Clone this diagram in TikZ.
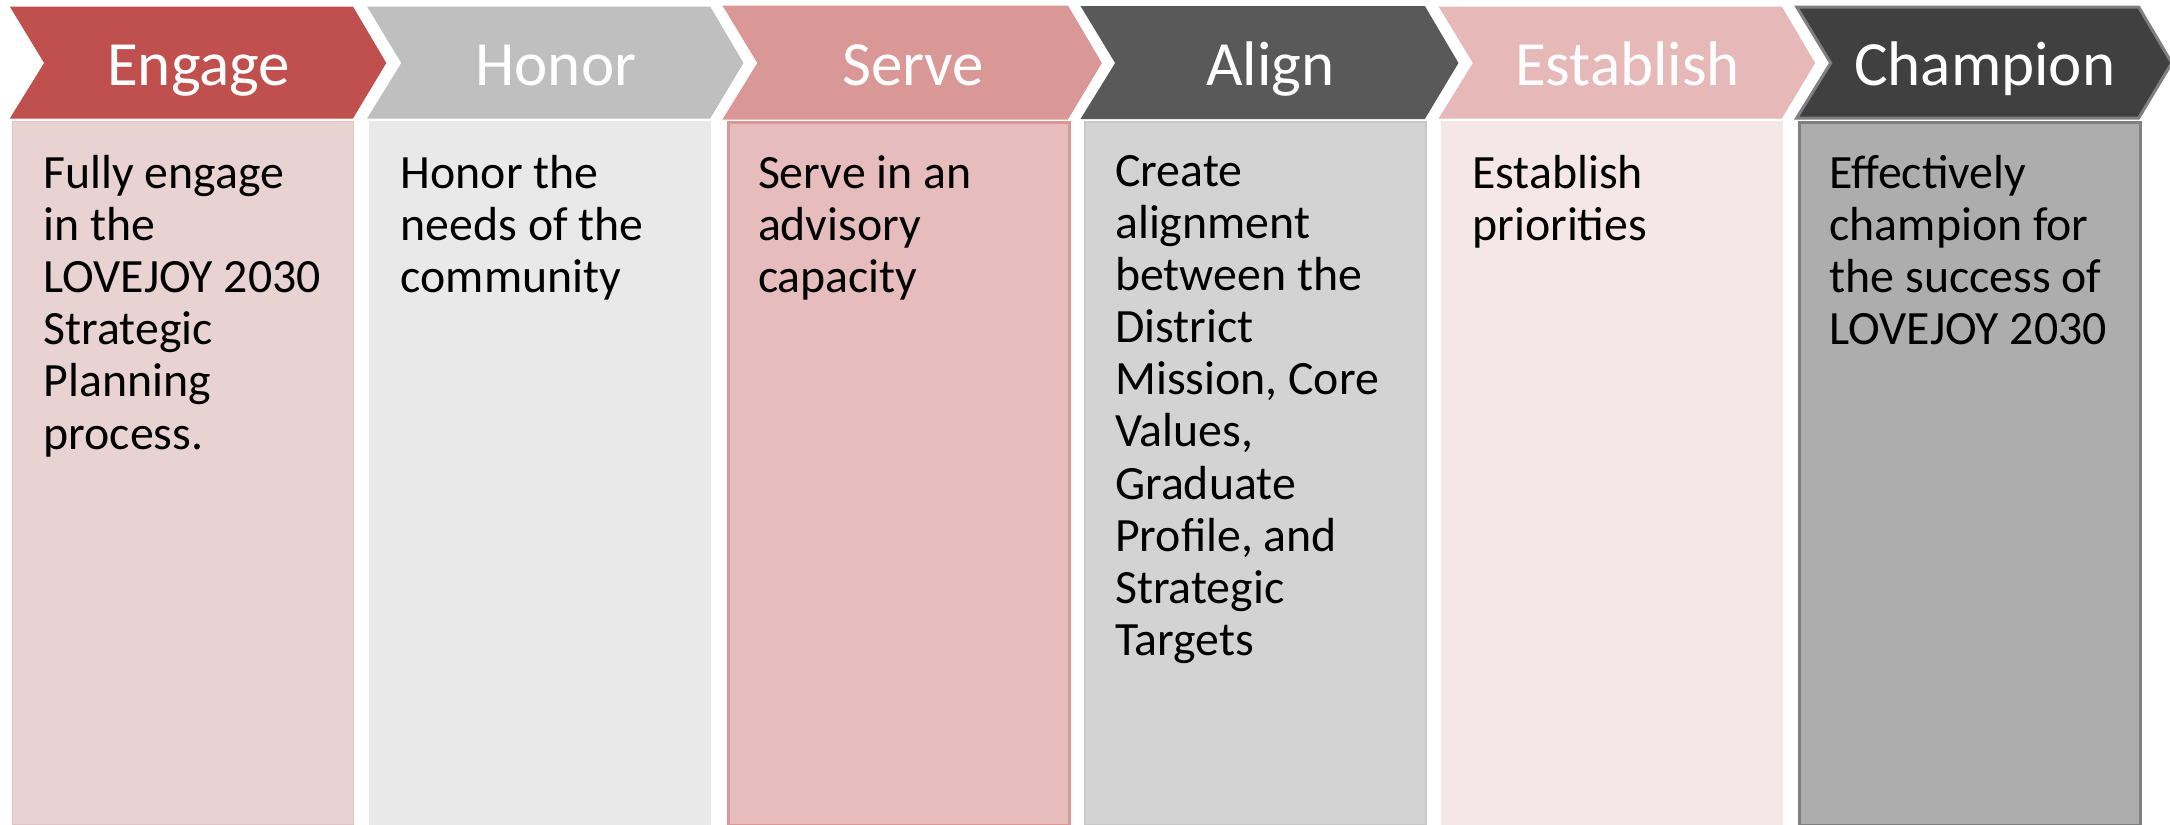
\documentclass[tikz,border=0pt]{standalone}
\usepackage{fontspec}
\setmainfont{Carlito}
\usetikzlibrary{positioning,calc}
\definecolor{engagehd}{HTML}{C0504D}
\definecolor{engagebd}{HTML}{E8D2D2}
\definecolor{engageln}{HTML}{E0C4C4}
\definecolor{honorhd}{HTML}{BFBFBF}
\definecolor{honorbd}{HTML}{E9E9E9}
\definecolor{servehd}{HTML}{D99795}
\definecolor{servebd}{HTML}{E6BDBC}
\definecolor{alignhd}{HTML}{595959}
\definecolor{alignbd}{HTML}{D3D3D3}
\definecolor{alignln}{HTML}{C8C8C8}
\definecolor{estabhd}{HTML}{E6B8B7}
\definecolor{estabbd}{HTML}{F5E7E7}
\definecolor{champhd}{HTML}{404040}
\definecolor{champbd}{HTML}{ADADAD}
\definecolor{champln}{HTML}{7F7F7F}
\tikzset{
  steptitle/.style = {text=white, inner sep=0pt, anchor=base,
                      font=\fontsize{31.5}{36}\selectfont},
  stepbox/.style   = {rectangle, anchor=north west, inner sep=0pt,
                      minimum width=170.5pt, minimum height=351.5pt},
  steptext/.style  = {anchor=north west, align=left, inner sep=0pt,
                      font=\fontsize{23.9}{26.05}\selectfont},
}

\begin{document}
\begin{tikzpicture}[x=0.5pt, y=-0.5pt]
\useasboundingbox (0,0) rectangle (2170,825);
% ---- six steps: header chevron, body box, body text ----
\foreach \i/\hd/\hl/\bd/\bl/\lw/\title/\txt in {
  0/engagehd/engagehd/engagebd/engageln/0.5pt/Engage/{Fully engage\\in the\\LOVEJOY 2030\\Strategic\\Planning\\process.},
  1/honorhd/honorhd/honorbd/honorbd/0.5pt/Honor/{Honor the\\needs of the\\community},
  2/servehd/servehd/servebd/servehd/1.5pt/Serve/{Serve in an\\advisory\\capacity},
  3/alignhd/alignhd/alignbd/alignln/1pt/Align/{Create\\alignment\\between the\\District\\Mission, Core\\Values,\\Graduate\\Profile, and\\Strategic\\Targets},
  4/estabhd/estabhd/estabbd/estabbd/0.5pt/Establish/{Establish\\priorities},
  5/champhd/champln/champbd/champln/1.5pt/Champion/{Effectively\\champion for\\the success of\\LOVEJOY 2030}}{
  \pgfmathsetmacro{\s}{10.7+\i*357.2}
  \draw[fill=\hd, draw=\hl, line width=\lw] (\s,7) -- (\s+342,7) -- (\s+375,63)
     -- (\s+342,118) -- (\s,118) -- (\s+34,63) -- cycle;
  \node[steptitle] (h\i) at (\s+188,85) {\title};
  \node[stepbox, fill=\bd, draw=\bl, line width=\lw] (b\i) at (\s+1.5,121) {};
  \node[steptext] (t\i) at ($(b\i.north west)+(31,34)$) {\txt};
}
\end{tikzpicture}
\end{document}
